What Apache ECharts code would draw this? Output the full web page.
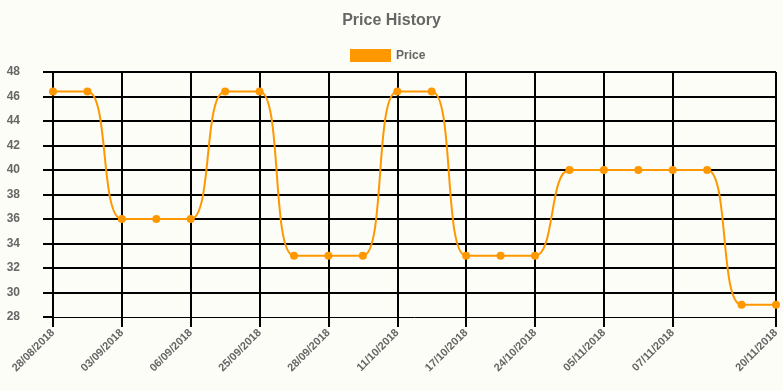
<!DOCTYPE html>
<html><head><meta charset="utf-8">
<script src="https://cdn.jsdelivr.net/npm/echarts@6/dist/echarts.min.js"></script>
<style>html,body{margin:0;padding:0;background:#fdfdf7;}#c{width:783px;height:391px;}</style>
</head><body><div id="c"></div>
<script>
const categories = ['28/08/2018','31/08/2018','03/09/2018','04/09/2018','06/09/2018','20/09/2018','25/09/2018','26/09/2018','28/09/2018','05/10/2018','11/10/2018','12/10/2018','17/10/2018','22/10/2018','24/10/2018','29/10/2018','05/11/2018','06/11/2018','07/11/2018','12/11/2018','16/11/2018','20/11/2018'];
const prices = [46.4,46.4,36,36,36,46.4,46.4,33,33,33,46.4,46.4,33,33,33,40,40,40,40,40,29,29];
const seriesName = 'Price';
const titleText = 'Price History';

const last = categories.length - 1;
const showIdx = (i) => (i % 2 === 0 && i <= last - 3) || i === last;
const font = 'Liberation Sans, Arial, sans-serif';
const chart = echarts.init(document.getElementById('c'));
chart.setOption({
  backgroundColor: '#fdfdf7',
  animation: false,
  title: { text: titleText, left: 'center', top: 8, textStyle: { color: '#666', fontSize: 16, fontWeight: 'bold', fontFamily: font } },
  legend: { data: [seriesName], top: 44, left: 345, icon: 'rect', itemWidth: 41, itemHeight: 13, itemGap: 5,
    textStyle: { color: '#666', fontSize: 12, fontWeight: 'bold', fontFamily: font } },
  grid: { left: 53, right: 7, top: 72, bottom: 74, containLabel: false },
  xAxis: {
    type: 'category', data: categories, boundaryGap: false,
    axisLine: { show: true, lineStyle: { color: '#000', width: 1 } },
    axisTick: { show: true, length: 10, interval: (i) => showIdx(i), lineStyle: { color: '#000', width: 2 } },
    splitLine: { show: true, interval: (i) => showIdx(i), lineStyle: { color: '#000', width: 2 } },
    axisLabel: { interval: (i) => showIdx(i), rotate: 45, margin: 14, color: '#666', fontSize: 11, fontWeight: 'bold', fontFamily: font }
  },
  yAxis: {
    type: 'value', min: 28, max: 48, interval: 2,
    axisLine: { show: true, lineStyle: { color: '#000', width: 2 } },
    axisTick: { show: true, length: 10, lineStyle: { color: '#000', width: 2 } },
    splitLine: { show: true, lineStyle: { color: ['rgba(0,0,0,0)','#000','#000','#000','#000','#000','#000','#000','#000','#000','#000'], width: 2 } },
    axisLabel: { margin: 33, color: '#666', fontSize: 12, fontWeight: 'bold', fontFamily: font }
  },
  series: [{
    name: seriesName, type: 'line', data: prices, smooth: 0.4,
    symbol: 'circle', symbolSize: 8,
    lineStyle: { color: '#ff9800', width: 2 },
    itemStyle: { color: '#ff9800' }
  }]
});
</script></body></html>
